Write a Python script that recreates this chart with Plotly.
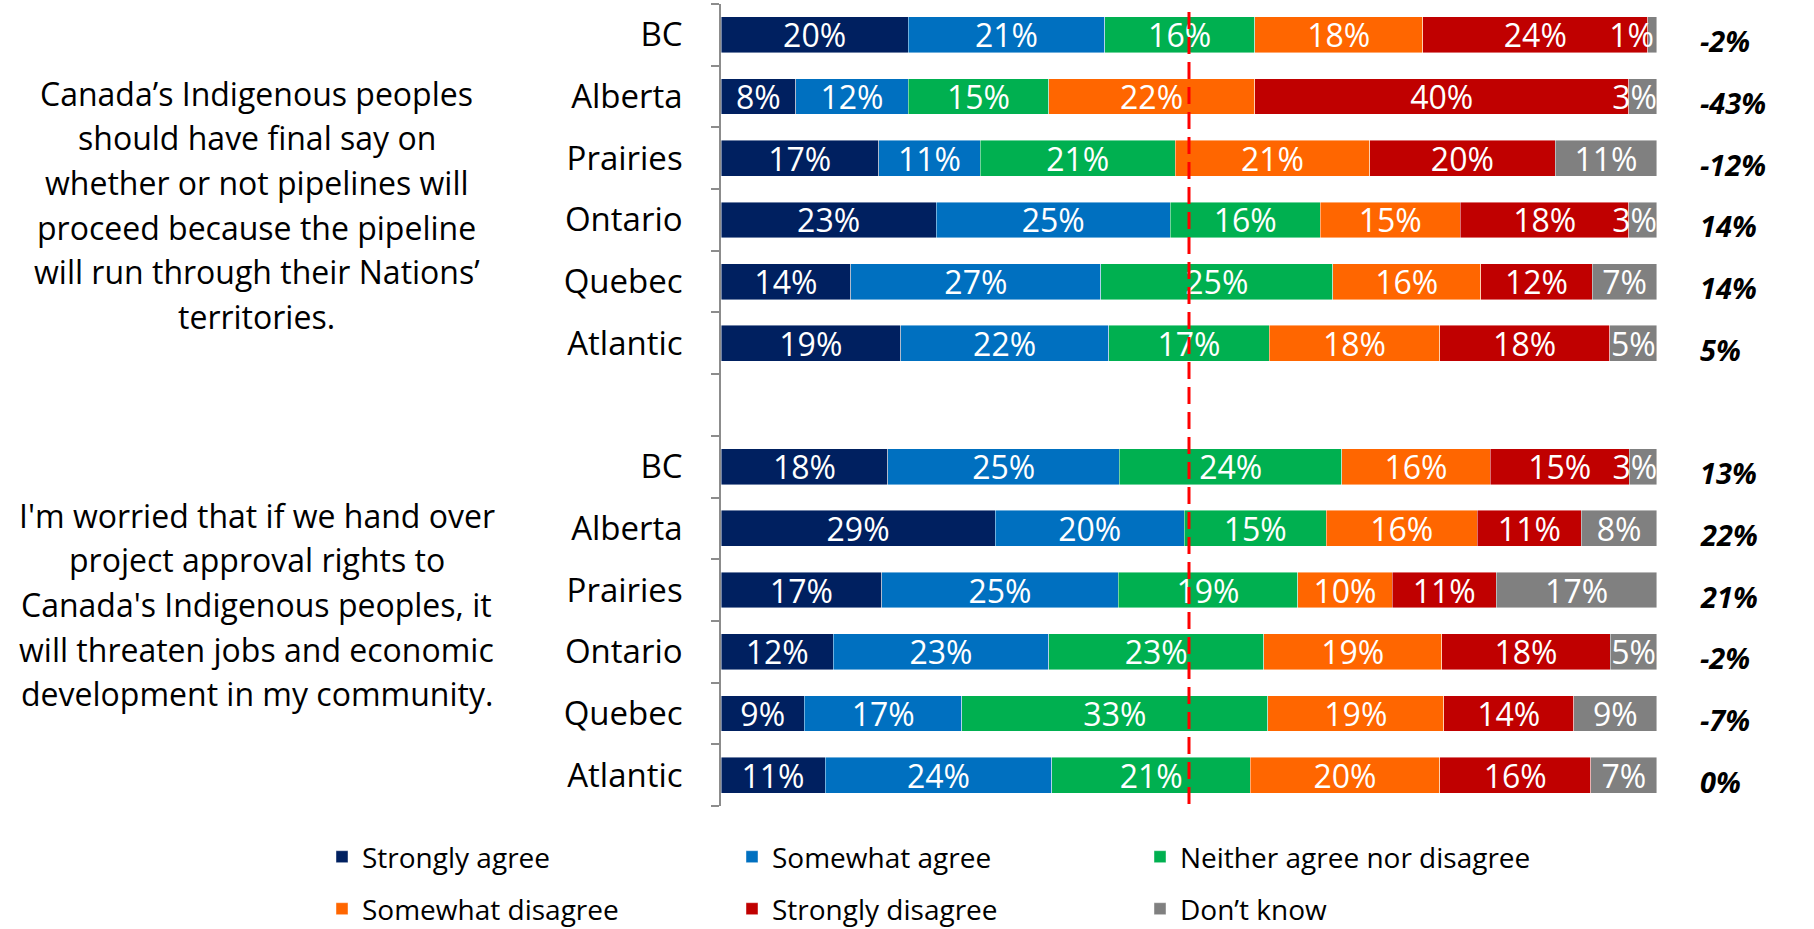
import plotly.graph_objects as go

# ---------------- data ----------------
regions = ["BC", "Alberta", "Prairies", "Ontario", "Quebec", "Atlantic"]
series_names = ["Strongly agree", "Somewhat agree", "Neither agree nor disagree",
                "Somewhat disagree", "Strongly disagree", "Don’t know"]
colors = ["#002060", "#0070C0", "#00B050", "#FF6600", "#C00000", "#808080"]

q1_lines = ["Canada’s Indigenous peoples", "should have final say on",
            "whether or not pipelines will", "proceed because the pipeline",
            "will run through their Nations’", "territories."]
q2_lines = ["I'm worried that if we hand over", "project approval rights to",
            "Canada's Indigenous peoples, it", "will threaten jobs and economic",
            "development in my community."]

q1_strongly_agree = [20, 8, 17, 23, 14, 19]
q1_somewhat_agree = [21, 12, 11, 25, 27, 22]
q1_neither = [16, 15, 21, 16, 25, 17]
q1_somewhat_disagree = [18, 22, 21, 15, 16, 18]
q1_strongly_disagree = [24, 40, 20, 18, 12, 18]
q1_dont_know = [1, 3, 11, 3, 7, 5]
q1_net = ["-2%", "-43%", "-12%", "14%", "14%", "5%"]

q2_strongly_agree = [18, 29, 17, 12, 9, 11]
q2_somewhat_agree = [25, 20, 25, 23, 17, 24]
q2_neither = [24, 15, 19, 23, 33, 21]
q2_somewhat_disagree = [16, 16, 10, 19, 19, 20]
q2_strongly_disagree = [15, 11, 11, 18, 14, 16]
q2_dont_know = [3, 8, 17, 5, 9, 7]
q2_net = ["13%", "22%", "21%", "-2%", "-7%", "0%"]

q1_series = [q1_strongly_agree, q1_somewhat_agree, q1_neither,
             q1_somewhat_disagree, q1_strongly_disagree, q1_dont_know]
q2_series = [q2_strongly_agree, q2_somewhat_agree, q2_neither,
             q2_somewhat_disagree, q2_strongly_disagree, q2_dont_know]

# category slots: group 1 rows, one blank slot, group 2 rows
pos1 = list(range(len(regions)))
pos2 = [len(regions) + 1 + i for i in range(len(regions))]
n_slots = len(regions) * 2 + 1

FONT = "Open Sans"
W, H = 1814, 929
M_L, M_R, M_T, M_B = 721, 157, 4, 123
PLOT_H = H - M_T - M_B


def paper_y(px):
    return (H - M_B - px) / PLOT_H


def label(v):
    # very thin segments: nudge the label left (trailing no-break spaces) so it stays on the bar
    pad = 5 if v < 2 else (2 if v < 4 else 0)
    return f"{v}%" + "\u00a0" * pad


fig = go.Figure()
legend_ids = ["legend", "legend2", "legend3", "legend4", "legend5", "legend6"]
for i, name in enumerate(series_names):
    vals = q1_series[i] + q2_series[i]
    fig.add_trace(go.Bar(
        name=name,
        orientation="h",
        x=vals,
        y=pos1 + pos2,
        text=[label(v) for v in vals],
        texttemplate="%{text}",
        textposition="inside",
        insidetextanchor="middle",
        textangle=0,
        constraintext="none",
        cliponaxis=False,
        textfont=dict(family=FONT, size=32, color="white"),
        marker=dict(color=colors[i], line=dict(color="rgba(255,255,255,0.55)", width=0.8)),
        width=0.58,
        legend=legend_ids[i],
        hoverinfo="skip",
    ))

# net score annotations on the right
for p, t in zip(pos1 + pos2, q1_net + q2_net):
    fig.add_annotation(
        x=1.044, xref="paper", y=p, yref="y", yshift=-6,
        text=f"<b><i>{t}</i></b>", showarrow=False, xanchor="left", yanchor="middle",
        font=dict(family=FONT, size=29, color="black"),
    )

# question texts on the left (one annotation per line for Office-like line spacing)
LINE_GAP = 44.7
for lines, first_px in ((q1_lines, 93), (q2_lines, 515)):
    for k, line in enumerate(lines):
        fig.add_annotation(x=-0.496, xref="paper", y=paper_y(first_px + k * LINE_GAP), yref="paper",
                           text=line, showarrow=False, xanchor="center", yanchor="middle",
                           font=dict(family=FONT, size=32, color="black"))

# dashed midpoint line
fig.add_shape(type="line", x0=50, x1=50, xref="x", y0=paper_y(12), y1=paper_y(810), yref="paper",
              line=dict(color="#FF0000", width=3, dash="17px,8px"), layer="above")

# legends: 3 columns x 2 rows
leg_cols = [322, 732, 1140]
leg_rows = [857, 909]
legend_layout = {}
for i, lid in enumerate(legend_ids):
    cx = leg_cols[i % 3]
    cy = leg_rows[i // 3]
    legend_layout[lid] = dict(orientation="h", xref="container", yref="container",
                              x=cx / W, y=1 - cy / H, xanchor="left", yanchor="middle",
                              font=dict(family=FONT, size=28, color="black"),
                              bgcolor="rgba(0,0,0,0)")

fig.update_layout(
    width=W, height=H,
    margin=dict(l=M_L, r=M_R, t=M_T, b=M_B),
    barmode="stack",
    barnorm="percent",
    plot_bgcolor="white",
    paper_bgcolor="white",
    font=dict(family=FONT, color="black"),
    xaxis=dict(visible=False, range=[0, 100.001]),
    yaxis=dict(
        range=[n_slots - 0.5, -0.5],
        tickmode="array",
        tickvals=pos1 + pos2,
        ticktext=regions + regions,
        ticks="",
        ticklabelstandoff=30,
        tickfont=dict(family=FONT, size=33, color="black"),
        showline=True, linecolor="#8C8C8C", linewidth=1.5,
        showgrid=False, zeroline=False,
        minor=dict(tickvals=[k - 0.5 for k in range(n_slots + 1)], ticks="outside",
                   ticklen=8, tickwidth=1.5, tickcolor="#8C8C8C", showgrid=False),
    ),
    showlegend=True,
    **legend_layout,
)

fig.write_html("out.html", config={"displayModeBar": False},
               post_script="document.body.style.margin='0px';")
